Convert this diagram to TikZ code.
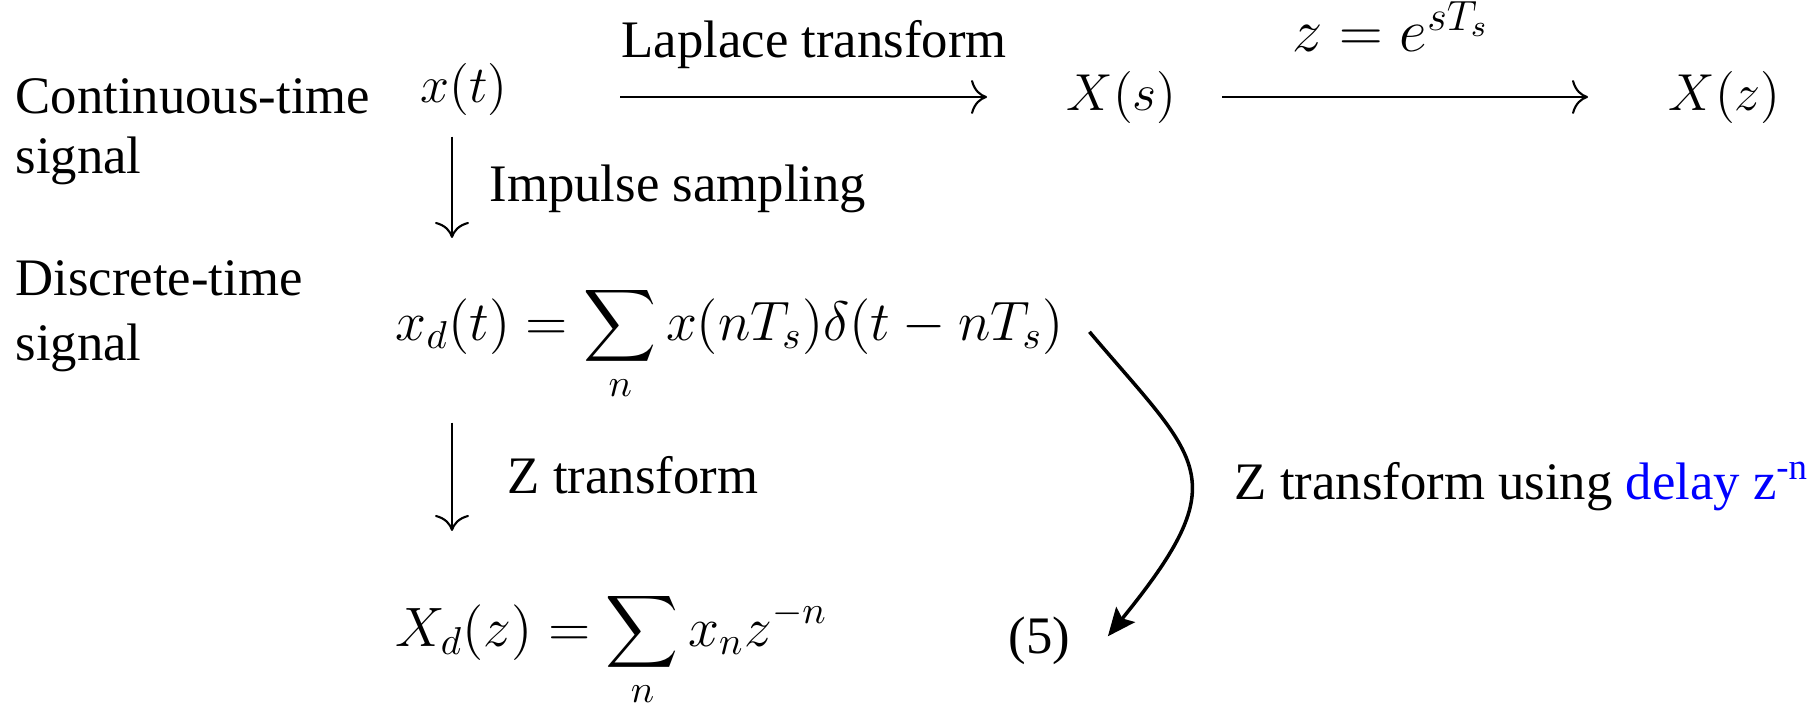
\documentclass[tikz,border=0pt]{standalone}
\usepackage{fix-cm}
\usepackage{amsmath}
\usepackage{fontspec}
\setmainfont{Liberation Serif}[Extension=.ttf, UprightFont=LiberationSerif-Regular, BoldFont=LiberationSerif-Bold, ItalicFont=LiberationSerif-Italic]
\usetikzlibrary{arrows.meta}

\begin{document}
\begin{tikzpicture}[
  txt/.style={inner sep=0pt, font=\fontsize{15}{17}\selectfont},
  eq/.style={inner sep=0pt, font=\fontsize{14.8}{17}\selectfont},
  bigeq/.style={inner sep=0pt, font=\fontsize{15.8}{18}\selectfont},
  arr/.style={-{Computer Modern Rightarrow[length=1.6mm,width=3.4mm]}, line width=0.6pt},
  bendarr/.style={-{Stealth[length=2.8mm,width=2.4mm,inset=0.5mm]}, line width=1pt}
]
\useasboundingbox (0,0) rectangle (18.2,-7.13);
% Row labels
\node[txt, anchor=north west, align=left] (ct) at (0.15,-0.78) {Continuous-time\\signal};
\node[txt, anchor=north west, align=left] (dt) at (0.15,-2.60) {Discrete-time\\[1.5pt]signal};
% Top row
\node[eq, anchor=base west] (xt) at (4.20,-1.02) {$x(t)$};
\node[eq, anchor=base west] (Xs) at (10.66,-1.10) {$X(s)$};
\node[eq, anchor=base west] (Xz) at (16.68,-1.10) {$X(z)$};
\node[txt, anchor=base west] (lap) at (6.21,-0.58) {Laplace transform};
\node[eq, font=\fontsize{17.2}{18}\selectfont, anchor=base west] (zes) at (12.92,-0.52) {$z = e^{sT_s}$};
\draw[arr, shorten <=11.2mm, shorten >=7.9mm] (xt.east |- Xs.west) -- (Xs.west);
\draw[arr, shorten <=4.5mm, shorten >=8.0mm] (Xs.east) -- (Xz.west);
% Sampling
\node[txt, anchor=base west] (imp) at (4.89,-2.01) {Impulse sampling};
\node[bigeq, anchor=base west] (xd) at (3.95,-3.40) {$\displaystyle x_d(t) = \sum_n x(nT_s)\delta(t-nT_s)$};
\draw[arr, shorten <=2.1mm, shorten >=4.7mm] ([xshift=5.7mm]xd.north west |- xt.south) -- ([xshift=5.7mm]xd.north west);
% Z transform
\node[txt, anchor=base west] (zt) at (5.07,-4.93) {Z transform};
\node[bigeq, anchor=base west] (Xd) at (3.95,-6.46) {$\displaystyle X_d(z) = \sum_n x_n z^{-n}$};
\node[txt, anchor=base west] (eqn) at (10.08,-6.53) {(5)};
\draw[arr, shorten <=2mm, shorten >=6mm] ([xshift=5.7mm]xd.south west) -- ([xshift=5.7mm]Xd.north west);
% Delay route
\node[txt, anchor=base west] (ztd) at (12.34,-4.99) {Z transform using \textcolor{blue}{delay z\textsuperscript{-n}}};
\draw[bendarr] ([xshift=2.5mm,yshift=1.2mm]xd.east) .. controls +(1.1,-1.3) and +(1.3,1.6) .. ([xshift=3.7mm,yshift=0.4mm]eqn.east);
\end{tikzpicture}
\end{document}
